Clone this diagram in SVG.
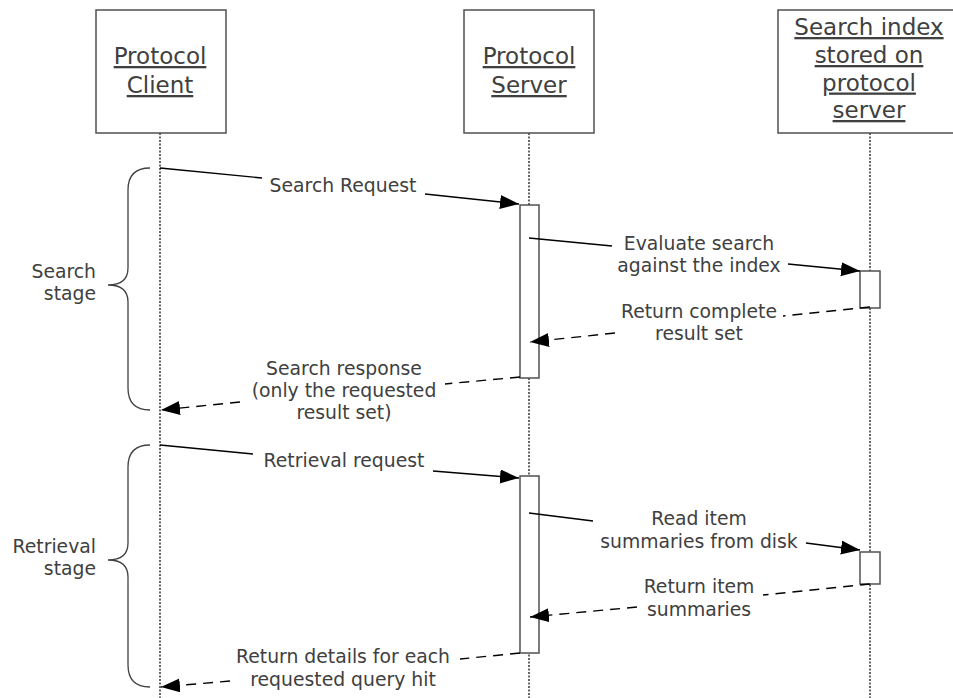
<svg xmlns="http://www.w3.org/2000/svg" width="953" height="698" viewBox="0 0 953 698">
<style>
.box{fill:#fff;stroke:#505050;stroke-width:1.5}
.life{stroke:#000;stroke-width:1.2;stroke-dasharray:2,1.5;fill:none}
.bar{fill:#fff;stroke:#505050;stroke-width:1.5}
.msg{fill:none;stroke:#000;stroke-width:1.4;marker-end:url(#ah)}
.ret{fill:none;stroke:#000;stroke-width:1.4;stroke-dasharray:10,7;marker-end:url(#ah)}
.brace{fill:none;stroke:#404040;stroke-width:1.3}
.hd{font-family:"DejaVu Sans",Verdana,sans-serif;font-size:23px;fill:#404040;text-anchor:middle;text-decoration:underline}
.lb{font-family:"DejaVu Sans",Verdana,sans-serif;font-size:18.8px;fill:#404040;text-anchor:middle}
.st{font-family:"DejaVu Sans",Verdana,sans-serif;font-size:18.8px;fill:#404040;text-anchor:end}
</style>
<defs>
<marker id="ah" markerUnits="userSpaceOnUse" markerWidth="21" markerHeight="15" refX="19" refY="7" orient="auto">
<path d="M0,0 L19,7 L0,14 Z" fill="#000" stroke="none"/>
</marker>
</defs>
<g id="lifelines">
<line class="life" x1="160" y1="133" x2="160" y2="698"/>
<line class="life" x1="529" y1="133" x2="529" y2="698"/>
<line class="life" x1="870" y1="133" x2="870" y2="698"/>
</g>
<g id="client">
<rect class="box" x="96" y="10" width="130" height="123"/>
<text class="hd" x="160" y="64">Protocol</text>
<text class="hd" x="160" y="93">Client</text>
</g>
<g id="server">
<rect class="box" x="464" y="10" width="130" height="123"/>
<text class="hd" x="529" y="64">Protocol</text>
<text class="hd" x="529" y="93">Server</text>
</g>
<g id="index">
<rect class="box" x="778" y="10" width="190" height="123"/>
<text class="hd" x="869" y="35">Search index</text>
<text class="hd" x="869" y="63">stored on</text>
<text class="hd" x="869" y="90.5">protocol</text>
<text class="hd" x="869" y="118">server</text>
</g>
<g id="activations">
<rect class="bar" x="520" y="205" width="19" height="173"/>
<rect class="bar" x="520" y="476" width="19" height="177"/>
<rect class="bar" x="860" y="271" width="20" height="37"/>
<rect class="bar" x="860" y="552" width="20" height="32"/>
</g>
<g id="connectors">
<path class="msg" d="M160,168 L262,178 M425,194 L519,204"/>
<path class="msg" d="M529,238 L612,246 M788,264 L860,271"/>
<path class="ret" d="M870,307 L783,316 M615,333 L530,342"/>
<path class="ret" d="M520,377 L445,384 M240,402 L161,410"/>
<path class="msg" d="M160,445 L253,454 M433,471 L519,478"/>
<path class="msg" d="M529,513 L593,521 M806,543 L860,550"/>
<path class="ret" d="M870,584 L763,595 M637,607 L530,617"/>
<path class="ret" d="M520,653 L460,659 M230,681 L161,687"/>
</g>
<g id="labels">
<text class="lb" x="343" y="192">Search Request</text>
<text class="lb" x="699" y="250">Evaluate search</text>
<text class="lb" x="699" y="272">against the index</text>
<text class="lb" x="699" y="318">Return complete</text>
<text class="lb" x="699" y="340">result set</text>
<text class="lb" x="344" y="375">Search response</text>
<text class="lb" x="344" y="397">(only the requested</text>
<text class="lb" x="344" y="419">result set)</text>
<text class="lb" x="344" y="467">Retrieval request</text>
<text class="lb" x="699" y="525">Read item</text>
<text class="lb" x="699" y="548">summaries from disk</text>
<text class="lb" x="699" y="593">Return item</text>
<text class="lb" x="699" y="616">summaries</text>
<text class="lb" x="343" y="663">Return details for each</text>
<text class="lb" x="343" y="686">requested query hit</text>
</g>
<g id="search-stage">
<path class="brace" d="M150,168 Q128,168 128,190 L128,268 Q128,285 108,285 Q128,285 128,302 L128,388 Q128,410 150,410"/>
<text class="st" x="96" y="278">Search</text>
<text class="st" x="96" y="300">stage</text>
</g>
<g id="retrieval-stage">
<path class="brace" d="M150,445 Q128,445 128,467 L128,543 Q128,560 108,560 Q128,560 128,577 L128,665 Q128,687 150,687"/>
<text class="st" x="96" y="553">Retrieval</text>
<text class="st" x="96" y="575">stage</text>
</g>
</svg>
